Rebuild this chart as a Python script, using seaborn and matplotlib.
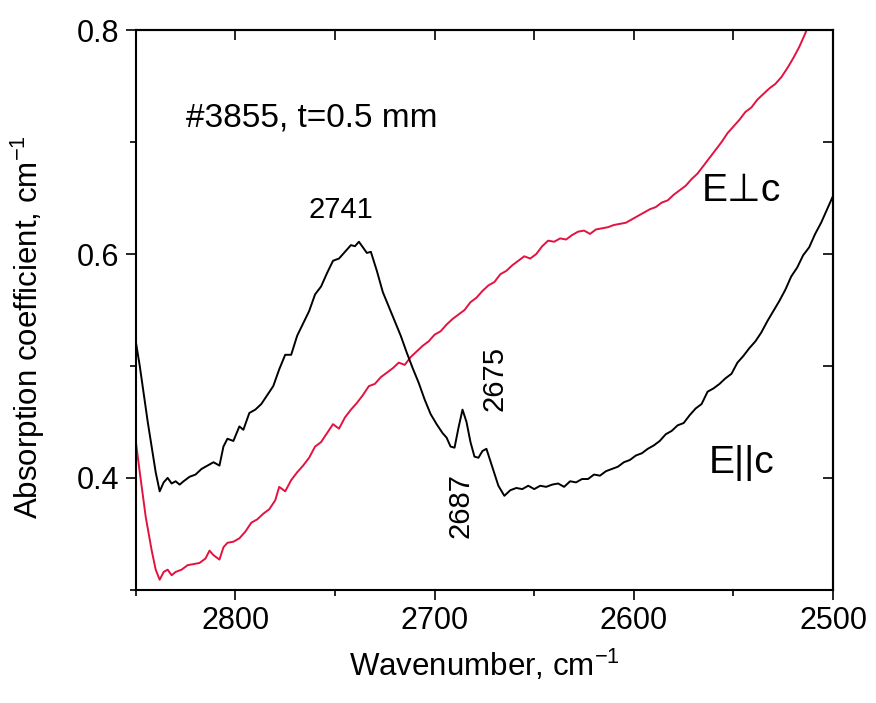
import matplotlib
matplotlib.use("Agg")
import matplotlib.pyplot as plt
from matplotlib.ticker import MultipleLocator
import seaborn as sns
import pandas as pd

# E||c spectrum (black)
wn_par = [2850, 2848, 2844, 2840, 2838, 2836, 2834, 2832, 2830, 2828, 2826, 2823, 2820, 2817,
          2814, 2811, 2808, 2806, 2804, 2801, 2798, 2796, 2793, 2790, 2787, 2784, 2781, 2778,
          2775, 2772, 2769, 2766, 2763, 2760, 2757, 2754, 2751, 2748, 2745, 2742, 2740, 2738,
          2736, 2734, 2732, 2729, 2726, 2723, 2720, 2717, 2714, 2711, 2708, 2705, 2702, 2699,
          2696, 2694, 2692, 2690, 2688, 2686, 2684, 2682, 2680, 2678, 2676, 2674, 2672, 2670,
          2668, 2665, 2662, 2659, 2656, 2653, 2650, 2647, 2644, 2641, 2638, 2635, 2632, 2629,
          2626, 2623, 2620, 2617, 2614, 2611, 2608, 2605, 2602, 2599, 2596, 2593, 2590, 2587,
          2584, 2581, 2578, 2575, 2572, 2569, 2566, 2563, 2560, 2557, 2554, 2551, 2548, 2545,
          2542, 2539, 2536, 2533, 2530, 2527, 2524, 2521, 2518, 2515, 2512, 2509, 2506, 2503, 2500]
abs_par = [0.522, 0.500, 0.450, 0.405, 0.388, 0.396, 0.400, 0.395, 0.397, 0.394, 0.397, 0.401, 0.403, 0.408,
           0.411, 0.414, 0.411, 0.428, 0.435, 0.433, 0.446, 0.443, 0.458, 0.461, 0.466, 0.474, 0.482, 0.497,
           0.510, 0.510, 0.527, 0.538, 0.549, 0.564, 0.571, 0.583, 0.594, 0.596, 0.602, 0.608, 0.607, 0.611,
           0.606, 0.601, 0.602, 0.585, 0.566, 0.553, 0.540, 0.527, 0.512, 0.498, 0.485, 0.470, 0.457, 0.448,
           0.440, 0.436, 0.428, 0.427, 0.445, 0.461, 0.450, 0.432, 0.419, 0.418, 0.424, 0.426, 0.415, 0.404,
           0.393, 0.384, 0.389, 0.391, 0.390, 0.393, 0.390, 0.393, 0.392, 0.394, 0.395, 0.392, 0.397, 0.396,
           0.399, 0.399, 0.403, 0.402, 0.406, 0.408, 0.410, 0.414, 0.416, 0.420, 0.422, 0.426, 0.429, 0.433,
           0.439, 0.442, 0.447, 0.449, 0.456, 0.462, 0.466, 0.477, 0.480, 0.484, 0.489, 0.493, 0.503, 0.509,
           0.516, 0.522, 0.530, 0.540, 0.549, 0.558, 0.568, 0.580, 0.588, 0.599, 0.606, 0.618, 0.628, 0.640, 0.652]

# E perp c spectrum (red)
wn_perp = [2850, 2848, 2845, 2842, 2840, 2838, 2836, 2834, 2832, 2830, 2827, 2824, 2821, 2818,
           2815, 2813, 2811, 2808, 2806, 2804, 2801, 2798, 2795, 2792, 2789, 2786, 2783, 2780,
           2778, 2775, 2772, 2769, 2766, 2763, 2760, 2757, 2754, 2751, 2748, 2745, 2742, 2739,
           2736, 2733, 2730, 2727, 2724, 2721, 2718, 2715, 2712, 2709, 2706, 2703, 2700, 2697,
           2694, 2691, 2688, 2685, 2682, 2679, 2676, 2673, 2670, 2667, 2664, 2661, 2658, 2655,
           2652, 2649, 2646, 2643, 2640, 2637, 2634, 2631, 2628, 2625, 2622, 2619, 2616, 2613,
           2610, 2607, 2604, 2601, 2598, 2595, 2592, 2589, 2586, 2583, 2580, 2577, 2574, 2571,
           2568, 2565, 2562, 2559, 2556, 2553, 2550, 2547, 2544, 2541, 2538, 2535, 2532, 2529,
           2526, 2523, 2520, 2517, 2514, 2511, 2508]
abs_perp = [0.433, 0.405, 0.365, 0.335, 0.318, 0.309, 0.316, 0.318, 0.313, 0.316, 0.318, 0.322, 0.323, 0.324,
            0.328, 0.335, 0.331, 0.327, 0.338, 0.342, 0.343, 0.346, 0.352, 0.360, 0.363, 0.368, 0.372, 0.380,
            0.392, 0.388, 0.398, 0.405, 0.411, 0.418, 0.428, 0.432, 0.440, 0.448, 0.444, 0.454, 0.461, 0.467,
            0.474, 0.482, 0.484, 0.490, 0.494, 0.498, 0.503, 0.501, 0.508, 0.513, 0.518, 0.522, 0.528, 0.531,
            0.537, 0.542, 0.546, 0.550, 0.557, 0.561, 0.567, 0.572, 0.575, 0.582, 0.585, 0.590, 0.594, 0.598,
            0.596, 0.600, 0.607, 0.612, 0.611, 0.614, 0.613, 0.617, 0.620, 0.621, 0.618, 0.622, 0.623, 0.624,
            0.626, 0.627, 0.628, 0.631, 0.634, 0.637, 0.640, 0.642, 0.646, 0.648, 0.653, 0.657, 0.661, 0.667,
            0.672, 0.679, 0.686, 0.693, 0.700, 0.708, 0.714, 0.720, 0.727, 0.731, 0.738, 0.743, 0.748, 0.752,
            0.758, 0.766, 0.775, 0.785, 0.797, 0.810, 0.822]

peak_labels = ["2741", "2687", "2675"]

sns.set_style("ticks")
plt.rcParams["font.family"] = ["Liberation Sans", "DejaVu Sans"]
plt.rcParams["mathtext.fontset"] = "custom"
plt.rcParams["mathtext.rm"] = "Liberation Sans"
plt.rcParams["mathtext.default"] = "regular"
for k in ["text.color", "axes.labelcolor", "xtick.color", "ytick.color", "axes.edgecolor"]:
    plt.rcParams[k] = "black"

fig = plt.figure(figsize=(8.76, 7.03), dpi=100)
ax = fig.add_axes([0.155, 0.161, 0.796, 0.796])

df_par = pd.DataFrame({"wn": wn_par, "a": abs_par})
df_perp = pd.DataFrame({"wn": wn_perp, "a": abs_perp})
sns.lineplot(data=df_perp, x="wn", y="a", ax=ax, color="#e3123f", lw=1.4,
             estimator=None, sort=False)
sns.lineplot(data=df_par, x="wn", y="a", ax=ax, color="black", lw=1.4,
             estimator=None, sort=False)

ax.set_xlim(2850, 2500)
ax.set_ylim(0.3, 0.8)
ax.xaxis.set_major_locator(MultipleLocator(100))
ax.xaxis.set_minor_locator(MultipleLocator(50))
ax.set_yticks([0.4, 0.6, 0.8])
ax.set_yticklabels(["0.4", "0.6", "0.8"])
ax.yaxis.set_minor_locator(MultipleLocator(0.1))
ax.tick_params(which="major", direction="out", length=7, width=1.2, labelsize=22, pad=5)
ax.tick_params(which="minor", direction="out", length=4, width=1.2)

top = ax.secondary_xaxis("top")
top.xaxis.set_major_locator(MultipleLocator(50))
top.tick_params(direction="in", length=7, width=1.2, labeltop=False)
right = ax.secondary_yaxis("right")
right.yaxis.set_major_locator(MultipleLocator(0.1))
right.tick_params(direction="in", length=7, width=1.2, labelright=False)
for s in list(ax.spines.values()) + [top.spines["top"], right.spines["right"]]:
    s.set_linewidth(1.5)
    s.set_color("black")

ax.set_xlabel("Wavenumber, cm$^{-1}$", fontsize=22.5, labelpad=8)
ax.set_ylabel("Absorption coefficient, cm$^{-1}$", fontsize=22.5)
ax.yaxis.set_label_coords(-0.128, 0.47)

ax.text(2825, 0.722, "#3855, t=0.5 mm", fontsize=24, va="center", ha="left")
ax.text(2747, 0.639, peak_labels[0], fontsize=21, ha="center", va="center")
ax.text(2687, 0.375, peak_labels[1], fontsize=21, ha="center", va="center", rotation=90)
ax.text(2670, 0.489, peak_labels[2], fontsize=21, ha="center", va="center", rotation=90)
ax.text(2546, 0.656, "E\u22a5c", fontsize=28, ha="center", va="center")
ax.text(2546, 0.413, "E||c", fontsize=28, ha="center", va="center")

fig.savefig("out.png", dpi=100)
